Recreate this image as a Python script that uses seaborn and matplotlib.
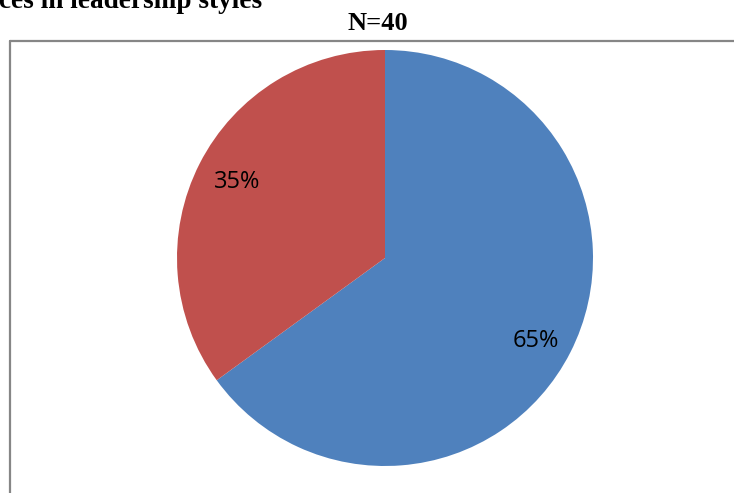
import matplotlib
matplotlib.use('Agg')
import matplotlib.pyplot as plt
import seaborn as sns
from matplotlib.lines import Line2D

# Data
labels = ['Style A', 'Style B']
shares = [65, 35]
colors = ['#4F81BD', '#C0504D']
title = 'N=40'
caption = 'ces in leadership styles'

sns.set_theme(style='white')

W, H = 734, 493
fig = plt.figure(figsize=(W / 100, H / 100), dpi=100)

# chart frame (only left and top edges are visible in the crop)
frame_kw = dict(color='#868686', linewidth=1.6, transform=fig.transFigure)
fig.add_artist(Line2D([10 / W, 10 / W], [0, 1 - 40.5 / H], **frame_kw))
fig.add_artist(Line2D([10 / W, 1], [1 - 40.5 / H, 1 - 40.5 / H], **frame_kw))

# pie axes, centered at (385, 258), radius 208 px
cx, cy, r = 385, 258, 208
ax = fig.add_axes([(cx - r) / W, 1 - (cy + r) / H, 2 * r / W, 2 * r / H])
wedges, texts, autotexts = ax.pie(
    shares, colors=colors, startangle=90, counterclock=False,
    autopct='%d%%', pctdistance=0.8, radius=1,
    wedgeprops=dict(linewidth=0),
    textprops=dict(fontsize=17, family=['Open Sans', 'DejaVu Sans'], color='black'))
# Excel "best fit" puts the big slice's label a little lower
x0, y0 = autotexts[0].get_position()
autotexts[0].set_position((x0 + 0.01, y0 - 0.035))
ax.set_xlim(-1, 1)
ax.set_ylim(-1, 1)
ax.set_aspect('equal')
ax.axis('off')

# title and clipped caption
fig.text(378 / W, 1 - 24 / H, title, ha='center', va='center', color='black',
         fontsize=19, fontweight='bold', family=['Liberation Serif', 'DejaVu Serif'])
fig.text(262 / W, 1 - 8 / H, caption, ha='right', va='baseline', color='black',
         fontsize=19.6, fontweight='bold', family=['Liberation Serif', 'DejaVu Serif'])

fig.savefig('out.png', dpi=100)
